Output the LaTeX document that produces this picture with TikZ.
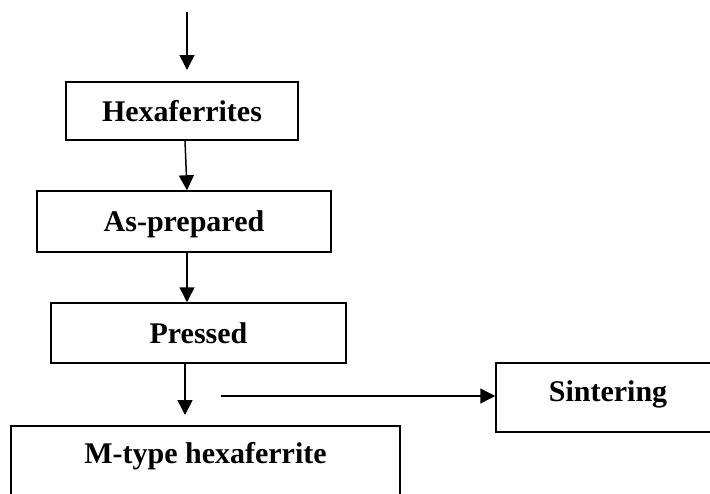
\documentclass[tikz,border=0pt]{standalone}
\usepackage{fontspec}
\setmainfont{Liberation Serif}
\usetikzlibrary{arrows.meta,calc}
\begin{document}
\begin{tikzpicture}[x=1pt,y=-1pt,
  box/.style={draw,line width=1.5pt,inner sep=0pt,font=\fontsize{30}{36}\selectfont\bfseries,text height=20pt,text depth=0pt},
  lbl/.style={inner sep=0pt,font=\fontsize{30}{36}\selectfont\bfseries,text height=20pt,text depth=0pt},
  arr/.style={line width=1.5pt,-{Triangle[length=15pt,width=15pt]}}]
\useasboundingbox (0,0) rectangle (710,493);
\clip (0,0) rectangle (710,493);
\node[box,minimum width=232pt,minimum height=58pt] (hex) at (182,111) {Hexaferrites};
\node[box,minimum width=294pt,minimum height=61pt] (asp) at (184,221.5) {As-prepared};
\node[box,minimum width=295pt,minimum height=60pt] (pre) at (198.5,333) {Pressed};
\node[box,minimum width=389pt,minimum height=94pt,label={[lbl,yshift=20pt]center:M-type hexaferrite}] (mty) at (205.5,473) {};
\node[box,minimum width=224pt,minimum height=69pt,label={[lbl,yshift=5.7pt]center:Sintering}] (sin) at (608,397.5) {};
\coordinate (t0) at (187,12);
\coordinate (t1) at (187,70);
\coordinate (a4) at (185,415);
\coordinate (h0) at (221,396);
\draw[arr] (t0) -- (t1);
\draw[arr] ([xshift=3pt]hex.south) -- ([xshift=3pt]asp.north);
\draw[arr] ([xshift=3pt]asp.south) -- ([xshift=3pt]asp.south |- pre.north);
\draw[arr] (a4 |- pre.south) -- (a4);
\draw[arr] (h0) -- (h0 -| sin.west);
\end{tikzpicture}
\end{document}
